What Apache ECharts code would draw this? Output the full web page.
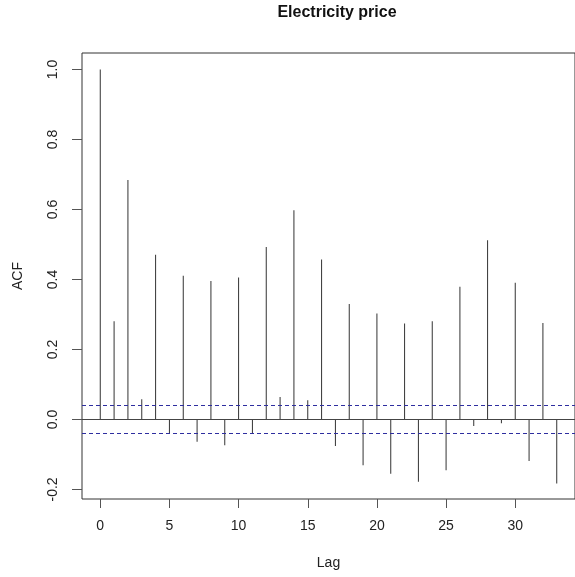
<!DOCTYPE html>
<html>
<head>
<meta charset="utf-8">
<script src="https://cdn.jsdelivr.net/npm/echarts@6/dist/echarts.min.js"></script>
<style>
html,body{margin:0;padding:0;background:#fff;}
#chart{width:575px;height:577px;}
</style>
</head>
<body>
<div id="chart"></div>
<script>
var lags = [0,1,2,3,4,5,6,7,8,9,10,11,12,13,14,15,16,17,18,19,20,21,22,23,24,25,26,27,28,29,30,31,32,33];
var acfValues = [1.0,0.281,0.684,0.058,0.471,-0.040,0.411,-0.064,0.396,-0.074,0.406,-0.040,0.493,0.064,0.598,0.055,0.457,-0.076,0.330,-0.131,0.303,-0.155,0.274,-0.178,0.281,-0.145,0.379,-0.019,0.512,-0.011,0.391,-0.119,0.276,-0.183];
var confBound = 0.0415;
var xTicks = [0,5,10,15,20,25,30];
var yTicks = [-0.2,0,0.2,0.4,0.6,0.8,1.0];

var chart = echarts.init(document.getElementById('chart'), null, {renderer:'canvas'});
var font = 'Liberation Sans, Arial, sans-serif';
chart.setOption({
  animation: false,
  title: {
    text: 'Electricity price',
    left: 332, top: 0, textAlign: 'center',
    textStyle: {fontFamily: font, fontSize: 16, fontWeight: 'bold', color: '#111'}
  },
  grid: {
    left: 82, top: 53, width: 500, height: 446,
    show: true, borderColor: '#333', borderWidth: 1, backgroundColor: 'transparent'
  },
  xAxis: {
    type: 'value', min: -1.32, max: 34.32,
    name: 'Lag', nameLocation: 'middle', nameGap: 57,
    nameTextStyle: {fontFamily: font, fontSize: 14, color: '#222'},
    axisLine: {show: false, onZero: false},
    splitLine: {show: false},
    axisTick: {show: true, inside: false, length: 9, customValues: xTicks, lineStyle: {color: '#555'}},
    axisLabel: {customValues: xTicks, margin: 20, fontFamily: font, fontSize: 14, color: '#222'}
  },
  yAxis: {
    type: 'value', min: -0.2273, max: 1.0473,
    name: 'ACF', nameLocation: 'middle', nameGap: 57,
    nameTextStyle: {fontFamily: font, fontSize: 14, color: '#222'},
    axisLine: {show: false, onZero: false},
    splitLine: {show: false},
    axisTick: {show: true, inside: false, length: 10, customValues: yTicks, lineStyle: {color: '#555'}},
    axisLabel: {customValues: yTicks, rotate: 90, margin: 22, fontFamily: font, fontSize: 14, color: '#222',
      formatter: function(v){ return v.toFixed(1); }}
  },
  series: [{
    type: 'bar',
    barWidth: 1,
    itemStyle: {color: '#333'},
    data: lags.map(function(l, i){ return [l, acfValues[i]]; }),
    markLine: {
      silent: true, symbol: 'none', label: {show: false},
      data: [
        {yAxis: 0, lineStyle: {color: '#444', type: 'solid', width: 1}},
        {yAxis: confBound, lineStyle: {color: '#2e2ea0', type: [4,3], width: 1}},
        {yAxis: -confBound, lineStyle: {color: '#2e2ea0', type: [4,3], width: 1}}
      ]
    }
  }]
});
</script>
</body>
</html>
